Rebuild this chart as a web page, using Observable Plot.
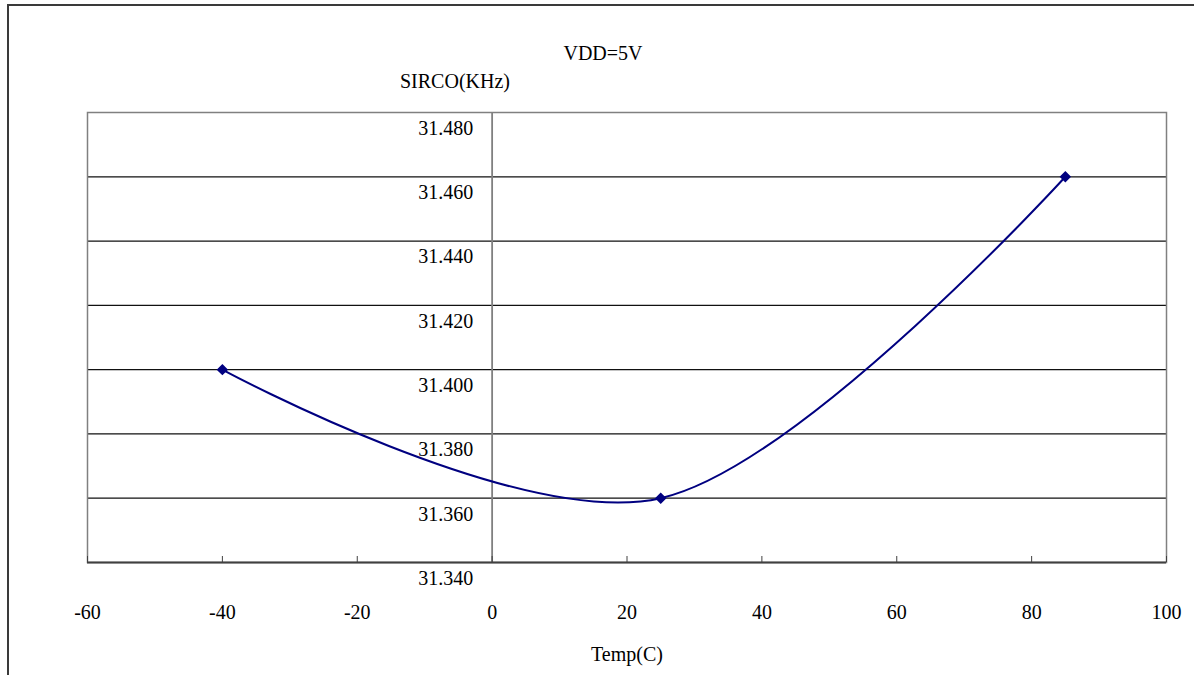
<!DOCTYPE html>
<html>
<head>
<meta charset="utf-8">
<script src="https://cdn.jsdelivr.net/npm/d3@7"></script>
<script src="https://cdn.jsdelivr.net/npm/@observablehq/plot@0.6"></script>
<style>
  html, body { margin: 0; padding: 0; background: #fff; }
  #wrap { position: relative; width: 1194px; height: 675px; overflow: hidden; font-family: "Liberation Serif", "DejaVu Serif", serif; color: #000; }
  #border { position: absolute; left: 7px; top: 4px; width: 1300px; height: 800px; border-left: 2px solid #3a3a3a; border-top: 2px solid #3a3a3a; }
  .lbl { position: absolute; font-size: 20px; white-space: nowrap; transform: translateX(-50%); }
  #chart { position: absolute; left: 0; top: 0; }
  #chart svg, #chart svg text { font-family: "Liberation Serif", "DejaVu Serif", serif !important; }
</style>
</head>
<body>
<div id="wrap">
  <div id="border"></div>
  <div id="chart"></div>
  <div class="lbl" id="title" style="left:603px; top:42px;">VDD=5V</div>
  <div class="lbl" id="ylab" style="left:455px; top:70px;">SIRCO(KHz)</div>
</div>
<script>
const temps = [-40, 25, 85];
const sirco = [31.400, 31.360, 31.460];
const xTicks = [-60, -40, -20, 0, 20, 40, 60, 80, 100];
const yTicks = [31.34, 31.36, 31.38, 31.40, 31.42, 31.44, 31.46, 31.48];
const xLabel = "Temp(C)";

const data = temps.map((t, i) => ({temp: t, f: sirco[i]}));
const gridY = yTicks.filter(v => v > 31.34 && v < 31.48);
const serif = "'Liberation Serif', 'DejaVu Serif', serif";

const chart = Plot.plot({
  width: 1194,
  height: 675,
  marginLeft: 87,
  marginRight: 28,
  marginTop: 112,
  marginBottom: 113,
  style: {fontFamily: serif, fontSize: "20px", background: "transparent", color: "#000"},
  x: {domain: [-60, 100], ticks: xTicks},
  y: {domain: [31.34, 31.48]},
  marks: [
    Plot.ruleY(gridY, {stroke: "#111", strokeWidth: 1.2}),
    Plot.frame({stroke: "#808080", strokeWidth: 1.5}),
    Plot.ruleX([0], {stroke: "#808080", strokeWidth: 1.8}),
    Plot.ruleY([31.34], {stroke: "#404040", strokeWidth: 2}),
    Plot.axisX(xTicks, {tickSize: -6, tickPadding: 48, stroke: "#404040", fontSize: 20, fontFamily: serif, label: xLabel, labelAnchor: "center", labelArrow: "none", labelOffset: 98, tickFormat: d => String(d)}),
    Plot.axisY({ticks: [], label: null, tickSize: 0}),
    Plot.text(yTicks, {x: 0, y: d => d, text: d => d.toFixed(3), textAnchor: "end", dx: -19, dy: 16, fontSize: 20, fontFamily: serif}),
    Plot.line(data, {x: "temp", y: "f", curve: "cardinal", stroke: "#000080", strokeWidth: 2}),
    Plot.dot(data, {x: "temp", y: "f", symbol: "diamond2", r: 4.2, fill: "#000080", stroke: "#000080"})
  ]
});
document.getElementById("chart").appendChild(chart);
</script>
</body>
</html>
